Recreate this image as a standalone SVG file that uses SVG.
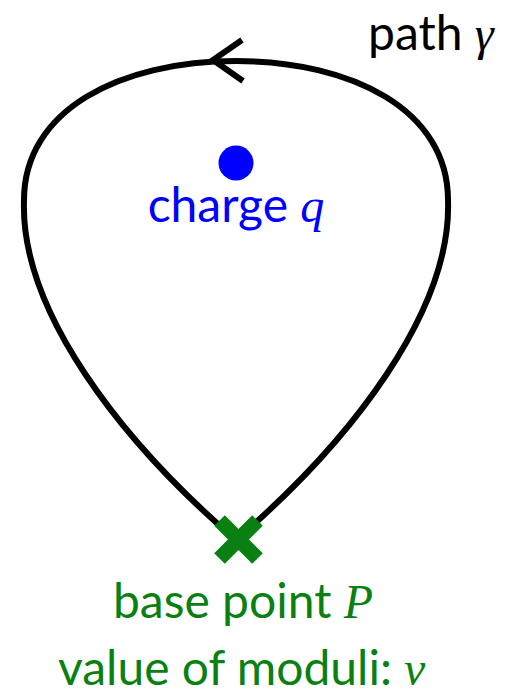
<svg xmlns="http://www.w3.org/2000/svg" width="510" height="699" viewBox="0 0 510 699">
<style>
.t{font-family:"Lato","Open Sans",sans-serif;font-size:48px}
.m{font-family:"Liberation Serif",serif;font-style:italic;font-size:48px}
.line{fill:none;stroke:#000;stroke-width:6}
.g{fill:#0a7f12}
.b{fill:#0000ff}
</style>
<rect width="510" height="699" fill="#fff"/>
<g id="connectors">
<path class="line" d="M236,540 C120,440 20,310 24,200 C24,110 120,61 236,61 C352,61 448,110 448,200 C452,310 352,440 236,540"/>
<path class="line" d="M242,40 L213,60 L243,81"/>
</g>
<g id="path-label"><text class="t" x="368" y="50">path <tspan class="m">γ</tspan></text></g>
<g id="charge">
<circle class="b" cx="236" cy="163" r="17.5"/>
<text class="t b" x="236" y="222" text-anchor="middle">charge <tspan class="m">q</tspan></text>
</g>
<g id="base">
<path d="M219.5,520.5 L257.5,558.5 M257.5,520.5 L219.5,558.5" stroke="#0a7f12" stroke-width="15"/>
<text class="t g" x="243" y="618" text-anchor="middle">base point <tspan class="m">P</tspan></text>
<text class="t g" x="58" y="685">value of moduli: <tspan class="m" x="404" font-size="54">v</tspan></text>
</g>
</svg>
